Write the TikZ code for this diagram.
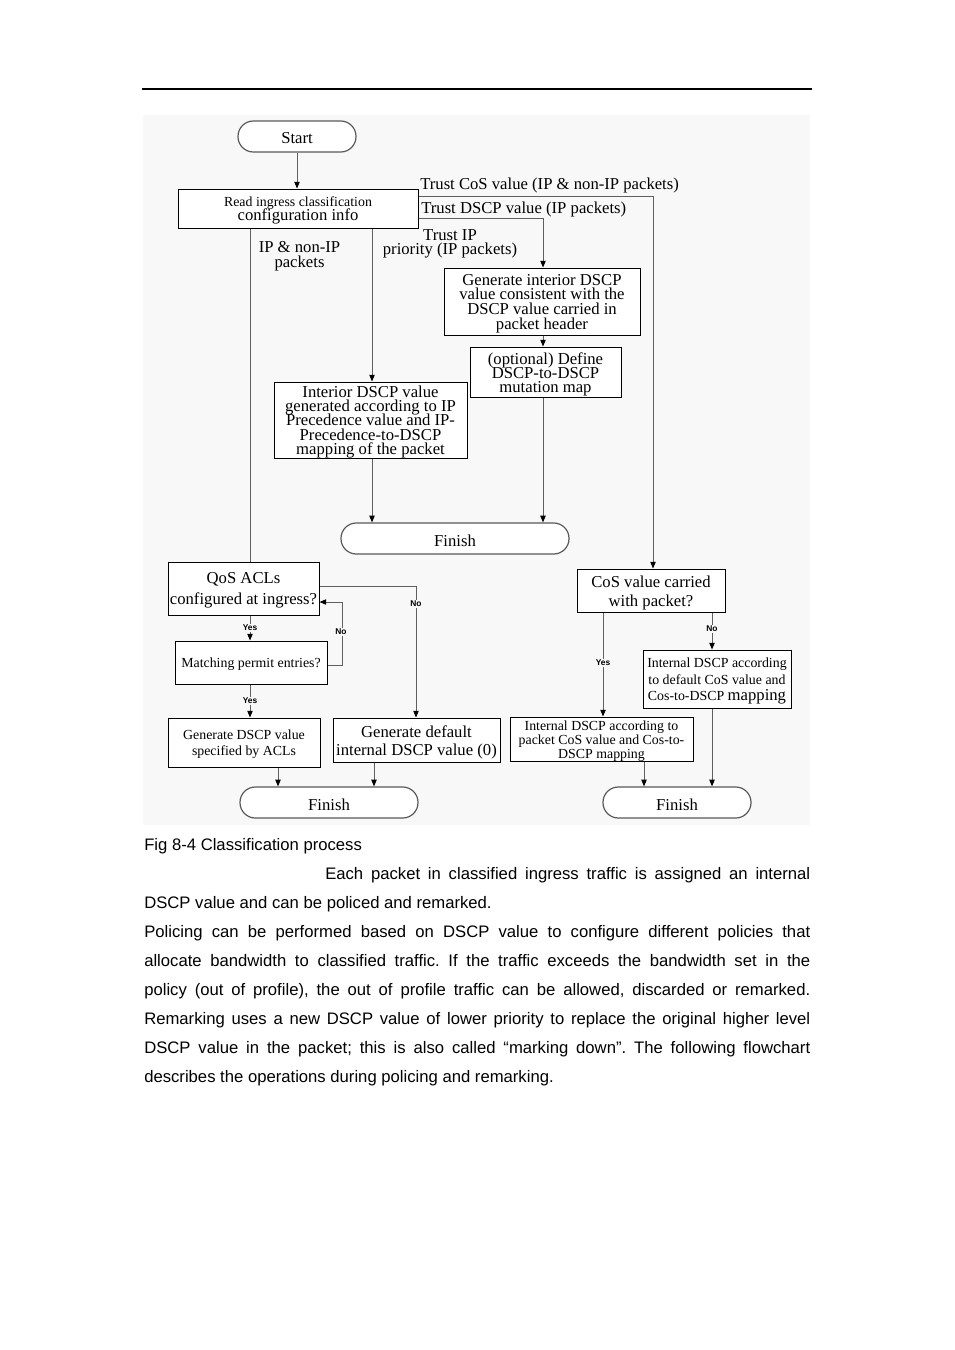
\documentclass[tikz,border=0pt]{standalone}
\usepackage{fontspec}
\setmainfont{Liberation Serif}
\newfontfamily\arialfam{Liberation Sans}
\usetikzlibrary{arrows.meta,calc}
\definecolor{figbg}{RGB}{248,248,248}
\definecolor{connc}{RGB}{95,95,95}
\newcommand\dgbig{\fontsize{12.5}{11}\selectfont}
\newcommand\dgsmall{\fontsize{10.4}{10.5}\selectfont}
\newcommand\ynfont{\arialfam\bfseries\fontsize{6.3}{7}\selectfont}
\newcommand\bodyf{\arialfam\fontsize{12.5}{21.75}\selectfont}
% centred stack of lines with fixed line spacing, drawn slightly lowered
\NewDocumentCommand\stk{O{11pt} O{1.5pt} m}{%
  \raisebox{-#2}[\height][\depth]{\vbox{\baselineskip=#1\lineskiplimit=-50pt\lineskip=0pt%
    \let\\\cr\halign{\hfil##\hfil\cr#3\crcr}}}}
\begin{document}
\begin{tikzpicture}[x=0.75pt,y=-0.75pt,
  box/.style={draw=black, line width=0.75pt, fill=white, inner sep=0pt, font=\dgbig},
  term/.style={draw=black!65, line width=0.9pt, fill=white, rounded corners=11.5pt, inner sep=0pt, font=\dgbig, minimum height=23.25pt},
  conn/.style={draw=connc, line width=0.75pt},
  arr/.style={conn, -{Triangle[length=5pt,width=4pt,fill=black,color=black]}},
  lab/.style={font=\dgbig, inner sep=0pt},
  yn/.style={font=\ynfont, fill=figbg, inner sep=1pt}]
\useasboundingbox (0,0) rectangle (954,1350);
\fill[white] (0,0) rectangle (954,1350);
% header rule
\draw[line width=0.9pt] (142,89) -- (812,89);
% figure background
\fill[figbg] (143,115) rectangle (810,825);

% nodes
\node[term, minimum width=88.5pt] (start) at (297,136.5) {\stk{Start}};
\node[box, minimum width=180pt, minimum height=29.25pt] (read) at (298,208.5)
  {\stk[10.5pt]{{\dgsmall Read ingress classification}\\configuration info}};
\node[box, minimum width=147pt, minimum height=50.25pt] (gint) at (542,301.5)
  {\stk[11pt]{Generate interior DSCP\\value consistent with the\\DSCP value carried in\\packet header}};
\node[box, minimum width=113.25pt, minimum height=37.5pt] (opt) at (545.5,372)
  {\stk[10.5pt]{(optional) Define\\DSCP-to-DSCP\\mutation map}};
\node[box, minimum width=144.75pt, minimum height=57pt] (ipp) at (370.5,420)
  {\stk[10.7pt]{Interior DSCP value\\generated according to IP\\Precedence value and IP-\\Precedence-to-DSCP\\mapping of the packet}};
\node[term, minimum width=171pt] (fin1) at (455,538.5) {\stk{Finish}};
\node[box, minimum width=113.25pt, minimum height=39.75pt] (qos) at (243.5,588.5)
  {\stk[15.75pt]{QoS ACLs\\configured at ingress?}};
\node[box, minimum width=114pt, minimum height=32.25pt, font=\dgsmall] (match) at (251,662.5)
  {\stk{Matching permit entries?}};
\node[box, minimum width=114pt, minimum height=36.75pt, font=\dgsmall] (gacl) at (244,742.5)
  {\stk[12pt]{Generate DSCP value\\specified by ACLs}};
\node[box, minimum width=125.25pt, minimum height=33pt] (gdef) at (416.5,740)
  {\stk[13.5pt]{Generate default\\internal DSCP value (0)}};
\node[term, minimum width=133.5pt] (fin2) at (329,802.5) {\stk{Finish}};
\node[box, minimum width=111pt, minimum height=32.25pt] (cos) at (651,590.5)
  {\stk[14.25pt]{CoS value carried\\with packet?}};
\node[box, minimum width=111pt, minimum height=43.5pt, font=\dgsmall] (idef) at (717,679)
  {\stk[12.5pt]{Internal DSCP according\\to default CoS value and\\Cos-to-DSCP {\dgbig mapping}}};
\node[box, minimum width=137.25pt, minimum height=33pt, font=\dgsmall] (ipkt) at (601.5,739)
  {\stk[10.5pt]{Internal DSCP according to\\packet CoS value and Cos-to-\\DSCP mapping}};
\node[term, minimum width=111pt] (fin3) at (677,802.5) {\stk{Finish}};

% branch labels
\node[lab, anchor=base west] (tcos) at (420,189.5) {Trust CoS value (IP \& non-IP packets)};
\node[lab, anchor=base west] (tdscp) at (421,213.5) {Trust DSCP value (IP packets)};
\node[lab] (tip) at (450,244) {\stk[10.5pt][0pt]{Trust IP\\priority (IP packets)}};
\node[lab] (ipn) at (299.5,256.5) {\stk[11.25pt][0pt]{IP \& non-IP\\packets}};

% connectors
\draw[arr] (start.south) -- (start.south |- read.north);
\draw[conn] (read.south -| 250,0) -- (qos.north -| 250,0);
\draw[arr] (read.south -| 372,0) -- (ipp.north -| 372,0);
\draw[arr] (read.east |- 0,196) -| (cos.north -| 653,0);
\draw[arr] (read.east |- 0,218) -| (gint.north -| 543,0);
\draw[arr] (gint.south -| 543,0) -- (opt.north -| 543,0);
\draw[arr] (opt.south -| 543,0) -- (fin1.north -| 543,0);
\draw[arr] (ipp.south -| 372,0) -- (fin1.north -| 372,0);
\draw[arr] (qos.east |- 0,586) -| (gdef.north -| 416,0);
\draw[arr] (qos.south -| 250,0) -- (match.north -| 250,0);
\draw[arr] (match.east |- 0,665) -- (342,665) -- (342,602) -- (qos.east |- 0,602);
\draw[arr] (match.south -| 250,0) -- (gacl.north -| 250,0);
\draw[arr] (gacl.south -| 278,0) -- (fin2.north -| 278,0);
\draw[arr] (gdef.south -| 374,0) -- (fin2.north -| 374,0);
\draw[arr] (cos.south -| 603,0) -- (ipkt.north -| 603,0);
\draw[arr] (cos.south -| 712,0) -- (idef.north -| 712,0);
\draw[arr] (idef.south -| 712,0) -- (fin3.north -| 712,0);
\draw[arr] (ipkt.south -| 644,0) -- (fin3.north -| 644,0);

% yes / no labels
\node[yn] (no1) at (416,604) {No};
\node[yn] (yes1) at (250,628) {Yes};
\node[yn] (no2) at (341,632) {No};
\node[yn] (yes2) at (250,701) {Yes};
\node[yn] (yes3) at (603,663) {Yes};
\node[yn] (no3) at (712,629) {No};

% caption and body text
\node[anchor=base west, inner sep=0pt, font=\arialfam\fontsize{12.5}{14}\selectfont] (cap) at (144,850) {Fig 8-4 Classification process};
\node[anchor=base west, inner sep=0pt, text width=499.5pt, align=justify, font=\bodyf] (body) at (144,879)
{\tolerance=10000\hyphenpenalty=10000\parindent=0pt\parskip=0pt\frenchspacing
\hspace*{135.75pt}Each packet in classified ingress traffic is assigned an internal\linebreak
DSCP value and can be policed and remarked.\par
Policing can be performed based on DSCP value to configure different policies that\linebreak
allocate bandwidth to classified traffic. If the traffic exceeds the bandwidth set in the\linebreak
policy (out of profile), the out of profile traffic can be allowed, discarded or remarked.\linebreak
Remarking uses a new DSCP value of lower priority to replace the original higher level\linebreak
DSCP value in the packet; this is also called “marking down”. The following flowchart\linebreak
describes the operations during policing and remarking.\par};
\end{tikzpicture}
\end{document}
